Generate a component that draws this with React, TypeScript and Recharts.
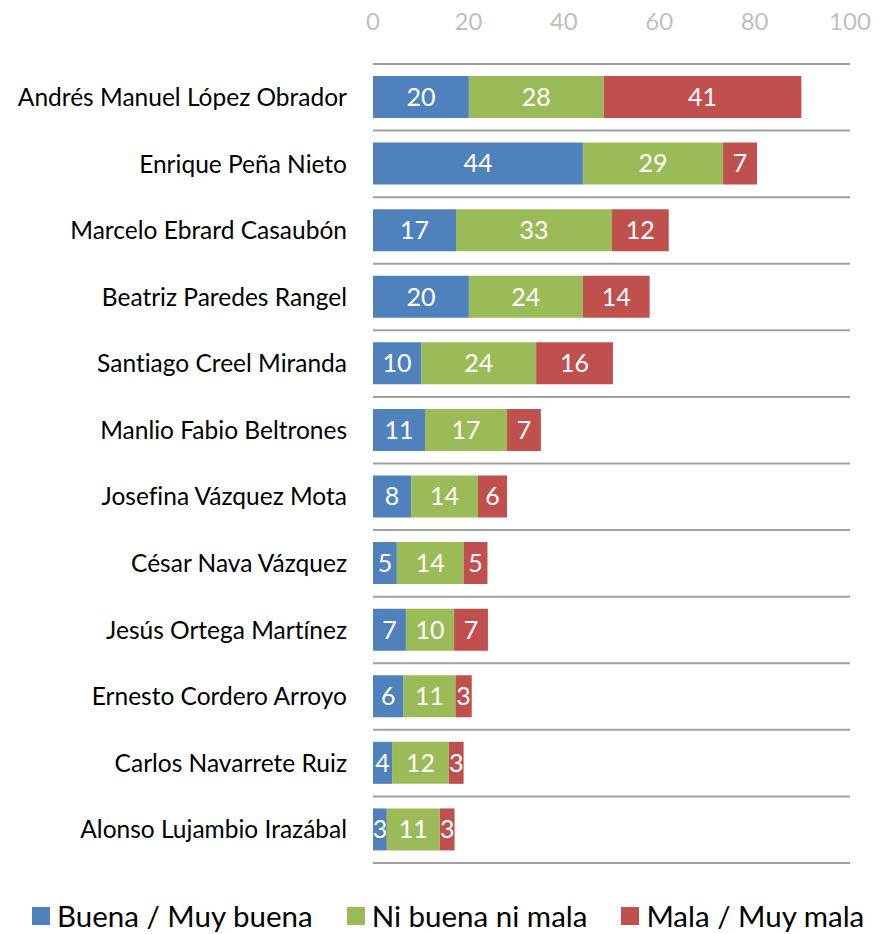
import { BarChart, Bar, XAxis, YAxis, CartesianGrid, Legend, LabelList } from 'recharts';

const names = [
  'Andrés Manuel López Obrador',
  'Enrique Peña Nieto',
  'Marcelo Ebrard Casaubón',
  'Beatriz Paredes Rangel',
  'Santiago Creel Miranda',
  'Manlio Fabio Beltrones',
  'Josefina Vázquez Mota',
  'César Nava Vázquez',
  'Jesús Ortega Martínez',
  'Ernesto Cordero Arroyo',
  'Carlos Navarrete Ruiz',
  'Alonso Lujambio Irazábal',
];
// bar lengths; labels show them rounded
const buena = [20.1, 44, 17.4, 20.1, 10.1, 10.9, 8, 5, 6.9, 6.4, 4, 2.9];
const ni = [28.3, 29.4, 32.7, 23.9, 24.1, 17.2, 14, 14, 10.1, 10.9, 11.9, 11.1];
const mala = [41.4, 7.1, 11.9, 14, 16.1, 7.1, 6.1, 5, 7.1, 3.4, 3.1, 3.1];
const xTicks = [0, 20, 40, 60, 80, 100];

const series = [
  { key: 'buena', name: 'Buena / Muy buena', color: '#4F81BD' },
  { key: 'ni', name: 'Ni buena ni mala', color: '#9BBB59' },
  { key: 'mala', name: 'Mala / Muy mala', color: '#C0504D' },
];

const data = names.map((name, i) => ({ name, buena: buena[i], ni: ni[i], mala: mala[i] }));

const FONT = 'Lato, "Open Sans", sans-serif';

function LegendContent() {
  return (
    <div
      style={{
        display: 'flex',
        gap: 34,
        paddingLeft: 32,
        fontFamily: FONT,
        fontSize: 29.5,
        color: '#000',
        lineHeight: '36px',
        whiteSpace: 'nowrap',
        width: 889,
        boxSizing: 'border-box',
      }}
    >
      {series.map((s) => (
        <div key={s.key} style={{ display: 'flex', alignItems: 'center', gap: 7, flexShrink: 0 }}>
          <span style={{ width: 18, height: 18, background: s.color, display: 'inline-block' }} />
          <span>{s.name}</span>
        </div>
      ))}
    </div>
  );
}

export default function App() {
  return (
    <div
      style={{
        position: 'absolute',
        left: 0,
        top: 0,
        width: 889,
        height: 934,
        background: '#fff',
        fontVariantLigatures: 'none',
      }}
    >
      <BarChart
        width={889}
        height={934}
        data={data}
        layout="vertical"
        margin={{ top: 0, right: 39, bottom: 35, left: 0 }}
        barSize={42}
      >
        <CartesianGrid
          vertical={false}
          stroke="#A0A0A0"
          strokeWidth={2}
          horizontalCoordinatesGenerator={({ offset }: any) =>
            names.map((_, i) => offset.top + (i * offset.height) / names.length).concat(offset.top + offset.height)
          }
        />
        <XAxis
          type="number"
          orientation="top"
          domain={[0, 100]}
          ticks={xTicks}
          height={64}
          axisLine={false}
          tickLine={false}
          tickMargin={28}
          tick={{ fill: '#BFBFBF', fontSize: 24, fontFamily: FONT }}
        />
        <YAxis
          type="category"
          dataKey="name"
          width={373}
          axisLine={false}
          tickLine={false}
          tickMargin={20}
          interval={0}
          tick={{ fill: '#000', fontSize: 24.5, fontFamily: FONT }}
        />
        {series.map((s) => (
          <Bar key={s.key} dataKey={s.key} name={s.name} stackId="a" fill={s.color} isAnimationActive={false}>
            <LabelList
              dataKey={s.key}
              position="center"
              fill="#fff"
              fontSize={25}
              fontFamily={FONT}
              formatter={(v: any) => Math.round(Number(v))}
            />
          </Bar>
        ))}
        <Legend
          verticalAlign="bottom"
          content={<LegendContent />}
          wrapperStyle={{ bottom: 0, left: 0, width: 889 }}
        />
      </BarChart>
    </div>
  );
}
